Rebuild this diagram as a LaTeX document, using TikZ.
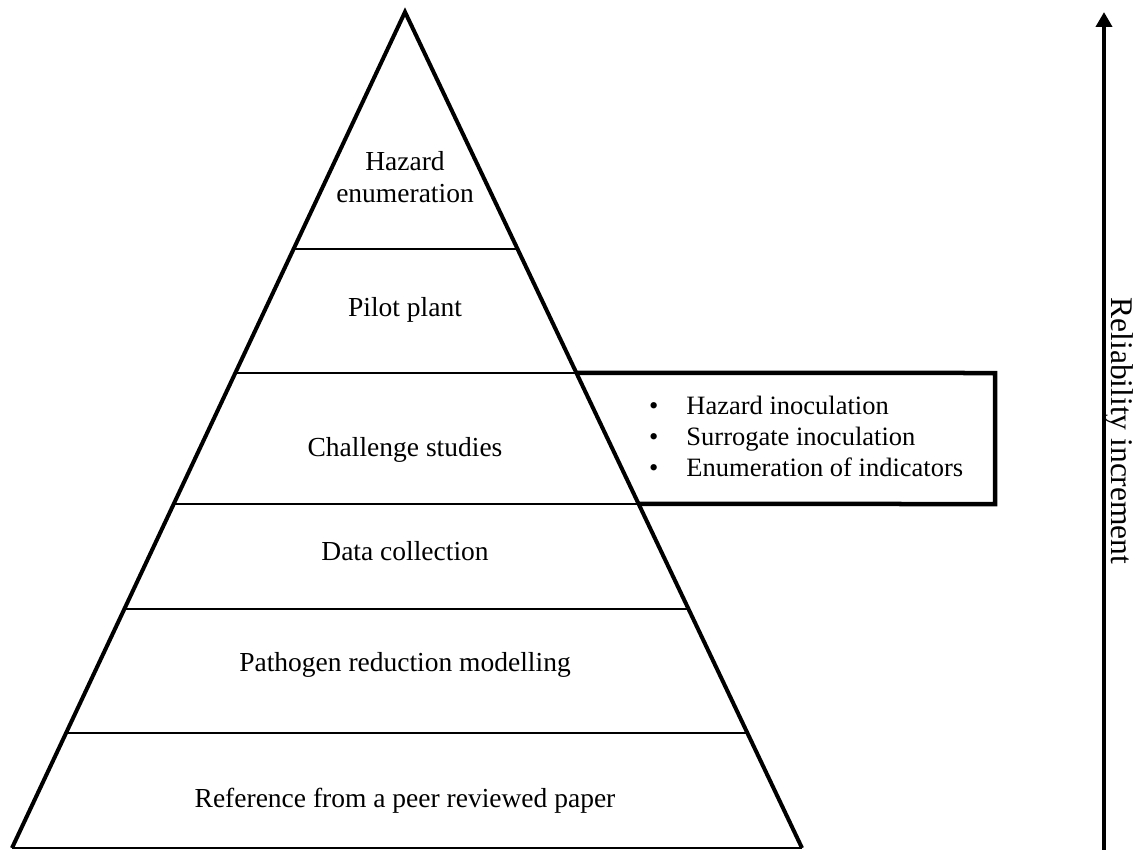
\documentclass[tikz,border=0pt]{standalone}
\usepackage{fontspec}
\setmainfont{Liberation Serif}
\usetikzlibrary{calc,arrows.meta}
\begin{document}
\begin{tikzpicture}[x=1pt,y=-1pt,
  side/.style={line width=4pt,line join=miter,line cap=butt},
  layer/.style={line width=1.5pt},
  lbl/.style={font=\fontsize{27.5}{32}\selectfont,align=center,inner sep=0pt},
  listfont/.style={font=\fontsize{26.5}{31}\selectfont,inner sep=0pt},
  boxline/.style={line width=4.5pt,line join=miter}]
\useasboundingbox (0,0) rectangle (1145,850);
\coordinate (apex) at (405,12);
\coordinate (L) at (12,848);
\coordinate (R) at (802,848);
% layer boundaries
\foreach \t/\n in {0.2835/1,0.4318/2,0.5885/3,0.7141/4,0.8624/5}{
  \coordinate (l\n) at ($(apex)!\t!(L)$);
  \coordinate (r\n) at ($(apex)!\t!(R)$);
}
\foreach \n in {1,...,5}{\draw[layer] (l\n) -- (r\n);}
\draw[layer] (L) -- (R);
\draw[side] (L) -- (apex) -- (R);
% side box
\coordinate (bxtr) at (995,373);
\coordinate (bxbr) at (995,504);
\draw[boxline] (r2) -- (bxtr) -- (bxbr) -- (r3);
% labels
\node[lbl] (haz) at (405,177) {Hazard\\enumeration};
\node[lbl] (pilot) at (405,310) {Pilot plant};
\node[lbl] (chal) at (405,450) {Challenge studies};
\node[lbl] (data) at (405,551) {Data collection};
\node[lbl] (path) at (405,665) {Pathogen reduction modelling};
\node[lbl] (ref) at (405,801) {Reference from a peer reviewed paper};
\node[listfont,anchor=west,align=left] (list) at (649,439) {%
  \begin{tabular}{@{}l@{\hspace{28pt}}l@{}}
  \textbullet & Hazard inoculation\\
  \textbullet & Surrogate inoculation\\
  \textbullet & Enumeration of indicators
  \end{tabular}};
% reliability arrow
\coordinate (abot) at (1104,850);
\coordinate (atop) at (1104,12);
\draw[line width=4pt,-{Triangle[length=15pt,width=16pt]}] (abot) -- (atop);
\node[lbl,rotate=-90,font=\fontsize{31.5}{36}\selectfont] (rel) at (1119,431) {Reliability increment};
\end{tikzpicture}
\end{document}
